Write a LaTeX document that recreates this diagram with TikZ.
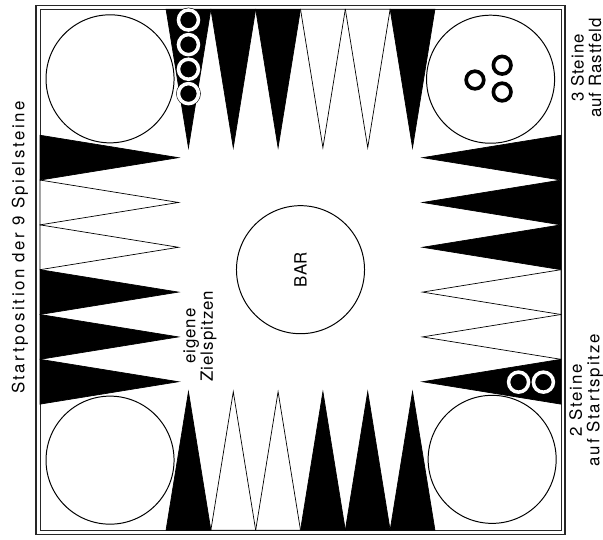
\documentclass[tikz,border=0pt]{standalone}
\usepackage{fontspec}
\setmainfont{TeX Gyre Heros}

\begin{document}
\begin{tikzpicture}[
    x=1cm, y=1cm,
    every node/.style={font=\fontsize{12}{12}\selectfont},
    field/.style={
        circle,
        draw,
        line width=0.7pt,
        minimum size=3.2cm,
        inner sep=0pt
    },
    spike/.style={
        draw,
        line width=0.5pt,
        line join=miter
    },
    stone/.style={
        circle,
        draw=black,
        line width=0.4pt,
        double=white,
        double distance=2.5pt,
        fill=black,
        minimum size=0.5cm,
        inner sep=0pt
    },
    reststone/.style={
        circle,
        draw=black,
        line width=2.6pt,
        fill=white,
        minimum size=0.44cm,
        inner sep=0pt
    },
    lbl/.style={
        rotate=90,
        align=center,
        inner sep=0pt,
        font=\fontsize{12}{12.5}\selectfont\addfontfeatures{LetterSpace=#1}
    },
    lbl/.default=6
]
    \useasboundingbox (-7.51,-6.74) rectangle (7.56,6.74);

    % Rahmen
    \draw[line width=0.8pt, black!85] (-6.61,-6.62) rectangle (6.61,6.61);
    \draw[line width=0.6pt, black!85] (-6.51,-6.51) rectangle (6.51,6.51);

    % Spitzen: sechs je Seite, Seite um Seite gedreht
    \foreach \r in {0,90,180,270}
        \foreach \i/\c in {0/black,1/black,2/black,3/white,4/white,5/black}
            \filldraw[spike, fill=\c, rotate=\r]
                ({-3.36+\i*1.12},6.51) -- ({-2.24+\i*1.12},6.51)
                -- ({-2.80+\i*1.12},3.05) -- cycle;

    % Rastfelder und Bar
    \node[field] (resttl) at (-4.76,4.77) {};
    \node[field] (resttr) at (4.75,4.76) {};
    \node[field] (restbl) at (-4.76,-4.76) {};
    \node[field] (restbr) at (4.79,-4.74) {};
    \node[field, rotate=90] (bar) at (0,0) {\addfontfeatures{LetterSpace=3}BAR};

    % Steine
    \foreach \y [count=\k] in {6.24,5.625,5.01,4.4}
        \node[stone] (start\k) at (-2.80,\y) {};
    \node[reststone] (rest1) at (4.36,4.74) {};
    \node[reststone] (rest2) at (5.04,5.11) {};
    \node[reststone] (rest3) at (5.04,4.44) {};
    \node[stone] (home1) at (5.45,-2.81) {};
    \node[stone] (home2) at (6.07,-2.81) {};

    % Beschriftung
    \node[lbl=15] (startlbl) at (-7.01,0.55) {Startposition der 9 Spielsteine};
    \node[lbl=6] (restlbl) at (7.14,5.04) {3 Steine\\auf Rastfeld};
    \node[lbl=11] (spitzlbl) at (7.14,-3.26) {2 Steine\\auf Startspitze};
    \node[lbl] (ziellbl) at (-2.51,-1.66) {eigene\\Zielspitzen};

\end{tikzpicture}
\end{document}
